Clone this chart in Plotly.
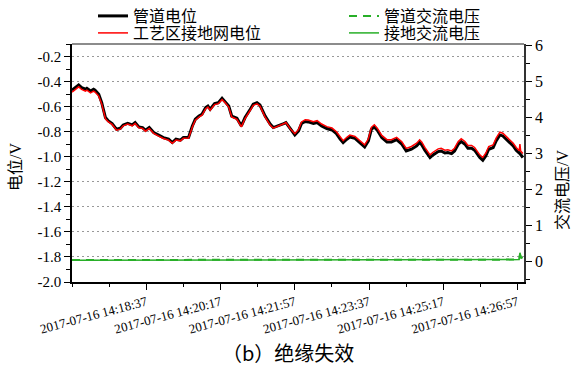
import pandas as pd
import plotly.graph_objects as go

START = pd.Timestamp("2017-07-16 14:16:57")

# seconds after START, pipe potential (V)
t_pipe = [0, 5, 9, 13, 18, 20, 25, 29, 31, 36, 40, 45, 49, 54, 60, 65, 69, 75, 81, 85,
          90, 95, 99, 104, 110, 116, 123, 130, 135, 140, 146, 150, 157, 162, 166, 171, 175, 180,
          183, 186, 192, 197, 202, 206, 211, 215, 222, 228, 233, 240, 244, 249, 253, 260, 267,
          271, 278, 285, 288, 294, 300, 305, 309, 314, 318, 325, 330, 336, 343, 350, 356, 361,
          365, 370, 374, 381, 388, 394, 399, 403, 407, 411, 417, 424, 430, 437, 444, 450, 457,
          464, 468, 471, 475, 482, 486, 493, 497, 502, 506, 511, 515, 520, 524, 529, 533, 538,
          542, 549, 553, 557, 561, 567, 571, 576, 580, 585, 589, 594, 598, 603, 607]
v_pipe = [-0.469, -0.443, -0.427, -0.448, -0.461, -0.453, -0.475, -0.461, -0.469, -0.501,
          -0.568, -0.687, -0.714, -0.735, -0.781, -0.773, -0.746, -0.733, -0.746, -0.727,
          -0.762, -0.767, -0.789, -0.767, -0.807, -0.826, -0.847, -0.860, -0.887, -0.860,
          -0.868, -0.847, -0.845, -0.754, -0.701, -0.675, -0.661, -0.608, -0.595, -0.621,
          -0.576, -0.568, -0.533, -0.560, -0.595, -0.675, -0.693, -0.754, -0.687, -0.621,
          -0.581, -0.568, -0.587, -0.675, -0.741, -0.767, -0.754, -0.735, -0.727, -0.781,
          -0.826, -0.794, -0.735, -0.719, -0.722, -0.735, -0.727, -0.754, -0.775, -0.786,
          -0.815, -0.860, -0.887, -0.860, -0.842, -0.853, -0.887, -0.922, -0.874, -0.781,
          -0.762, -0.789, -0.847, -0.882, -0.882, -0.863, -0.900, -0.954, -0.940, -0.914,
          -0.887, -0.906, -0.948, -1.007, -0.986, -0.959, -0.954, -0.970, -0.967, -0.975,
          -0.954, -0.900, -0.879, -0.900, -0.932, -0.932, -0.948, -1.007, -1.028, -0.994,
          -0.940, -0.927, -0.874, -0.826, -0.834, -0.860, -0.887, -0.914, -0.948, -0.975,
          -1.007]

# seconds after START, process-area grounding grid potential (V)
t_grid = [0, 5, 9, 13, 18, 20, 25, 29, 31, 36, 40, 45, 49, 54, 60, 65, 69, 75, 81, 85,
          90, 95, 99, 104, 110, 116, 123, 130, 135, 140, 146, 150, 157, 162, 166, 171, 175, 180,
          183, 186, 192, 197, 202, 206, 211, 215, 222, 228, 233, 240, 244, 249, 253, 260, 267,
          271, 278, 285, 288, 294, 300, 305, 309, 314, 318, 325, 330, 336, 343, 350, 356, 361,
          365, 370, 374, 381, 388, 394, 399, 403, 407, 411, 417, 424, 430, 437, 444, 450, 457,
          464, 468, 471, 475, 482, 486, 493, 497, 502, 506, 511, 515, 520, 524, 529, 533, 538,
          542, 549, 553, 557, 561, 567, 571, 576, 580, 585, 589, 594, 598, 602, 603, 604, 607]
v_grid = [-0.484, -0.458, -0.442, -0.463, -0.476, -0.468, -0.490, -0.476, -0.484, -0.516,
          -0.578, -0.697, -0.722, -0.742, -0.788, -0.780, -0.753, -0.740, -0.753, -0.734,
          -0.769, -0.774, -0.796, -0.774, -0.814, -0.833, -0.854, -0.867, -0.892, -0.867,
          -0.873, -0.852, -0.850, -0.762, -0.709, -0.683, -0.669, -0.616, -0.603, -0.629,
          -0.584, -0.576, -0.543, -0.568, -0.603, -0.683, -0.701, -0.762, -0.695, -0.629,
          -0.589, -0.578, -0.595, -0.683, -0.749, -0.772, -0.757, -0.737, -0.727, -0.778,
          -0.816, -0.782, -0.722, -0.704, -0.707, -0.720, -0.712, -0.739, -0.760, -0.771,
          -0.800, -0.845, -0.872, -0.845, -0.827, -0.838, -0.872, -0.905, -0.857, -0.765,
          -0.745, -0.772, -0.830, -0.864, -0.864, -0.845, -0.880, -0.933, -0.918, -0.892,
          -0.865, -0.884, -0.926, -0.985, -0.964, -0.937, -0.932, -0.948, -0.945, -0.953,
          -0.932, -0.878, -0.857, -0.878, -0.910, -0.910, -0.926, -0.985, -1.006, -0.972,
          -0.918, -0.905, -0.852, -0.804, -0.812, -0.838, -0.865, -0.892, -0.926, -0.952,
          -0.898, -0.955, -0.975]

# AC voltages (V, right axis)
t_ac = [0, 60, 120, 180, 240, 300, 360, 420, 480, 540, 590, 600, 602, 603, 605, 607]
v_ac_pipe = [0.05, 0.05, 0.05, 0.05, 0.05, 0.05, 0.05, 0.05, 0.05, 0.05, 0.05, 0.05, 0.06, 0.20, 0.08, 0.10]
v_ac_ground = [0.04, 0.04, 0.05, 0.04, 0.04, 0.05, 0.04, 0.04, 0.05, 0.04, 0.04, 0.05, 0.06, 0.25, 0.10, 0.12]

x_tick_labels = ["2017-07-16 14:18:37", "2017-07-16 14:20:17", "2017-07-16 14:21:57",
                 "2017-07-16 14:23:37", "2017-07-16 14:25:17", "2017-07-16 14:26:57"]
y_tick_vals = [-2.0, -1.8, -1.6, -1.4, -1.2, -1.0, -0.8, -0.6, -0.4, -0.2]
y_tick_labels = ["-2.0", "-1.8", "-1.6", "-1.4", "-1.2", "-1.0", "-0.8", "-0.6", "-0.4", "-0.2"]
y2_tick_vals = [0, 1, 2, 3, 4, 5, 6]

names = ["管道电位", "工艺区接地网电位", "管道交流电压", "接地交流电压"]


def to_time(secs):
    return [START + pd.Timedelta(seconds=s) for s in secs]


NUM_FONT = "Liberation Serif"
FONT = "Liberation Serif, Noto Sans CJK SC"
CJK_FONT = "Noto Sans CJK SC"
GREEN = "rgb(40,175,40)"

fig = go.Figure()
fig.add_trace(go.Scatter(x=to_time(t_pipe), y=v_pipe, mode="lines", name=names[0],
                         line=dict(color="black", width=3), legend="legend"))
fig.add_trace(go.Scatter(x=to_time(t_grid), y=v_grid, mode="lines", name=names[1],
                         line=dict(color="#ff0000", width=1.5), legend="legend2"))
fig.add_trace(go.Scatter(x=to_time(t_ac), y=v_ac_ground, mode="lines", name=names[3],
                         line=dict(color=GREEN, width=1.5), yaxis="y2", legend="legend4"))
fig.add_trace(go.Scatter(x=to_time(t_ac), y=v_ac_pipe, mode="lines", name=names[2],
                         line=dict(color=GREEN, width=2, dash="8px,6px"), yaxis="y2", legend="legend3"))

W, H = 574, 371
L, R, T, B = 72, 50, 44, 89
pw, ph = W - L - R, H - T - B


def px(xp):
    return (xp - L) / pw


def py(yp):
    return (H - B - yp) / ph


leg_common = dict(font=dict(family=FONT, size=16, color="black"), bgcolor="rgba(0,0,0,0)",
                  xanchor="left", yanchor="middle", borderwidth=0)

fig.update_layout(
    width=W, height=H,
    showlegend=True,
    margin=dict(l=L, r=R, t=T, b=B, autoexpand=False),
    plot_bgcolor="white", paper_bgcolor="white",
    font=dict(family=FONT, color="black"),
    legend=dict(x=px(93), y=py(16), **leg_common),
    legend2=dict(x=px(93), y=py(33), **leg_common),
    legend3=dict(x=px(344), y=py(16), **leg_common),
    legend4=dict(x=px(344), y=py(33), **leg_common),
    xaxis=dict(
        type="date",
        range=[START, START + pd.Timedelta(seconds=608.5)],
        tickmode="array", tickvals=x_tick_labels, ticktext=x_tick_labels,
        tickangle=-15, tickfont=dict(family=NUM_FONT, size=13, color="black"),
        ticks="outside", ticklen=6, tickwidth=1, tickcolor="black",
        minor=dict(ticks="outside", ticklen=3, tickcolor="black", dtick=50000, tick0=START, showgrid=False),
        showline=True, linecolor="black", linewidth=1.5,
        showgrid=False, zeroline=False,
    ),
    yaxis=dict(
        range=[-2.0, -0.1],
        tickmode="array", tickvals=y_tick_vals, ticktext=y_tick_labels,
        tickfont=dict(family=NUM_FONT, size=15, color="black"),
        ticks="outside", ticklen=6, tickwidth=1, tickcolor="black",
        minor=dict(ticks="outside", ticklen=4, tickcolor="black", dtick=0.1, tick0=-2.0, showgrid=False),
        showline=True, linecolor="black", linewidth=1.5,
        showgrid=True, gridcolor="#999999", griddash="2px,3px", gridwidth=1,
        zeroline=False,
    ),
    yaxis2=dict(
        overlaying="y", side="right",
        range=[-0.56, 6.03],
        tickmode="array", tickvals=y2_tick_vals,
        tickfont=dict(family=NUM_FONT, size=16, color="black"),
        ticks="outside", ticklen=6, tickwidth=1, tickcolor="black",
        minor=dict(ticks="outside", ticklen=4, tickcolor="black", dtick=0.5, tick0=0, showgrid=False),
        showline=True, linecolor="#333333", linewidth=1.5,
        showgrid=False, zeroline=False,
    ),
    shapes=[dict(type="line", xref="paper", yref="paper", x0=0, x1=1, y0=1, y1=1,
                 line=dict(color="#666666", width=1.5))],
    annotations=[
        dict(text="电位/V", xref="paper", yref="paper", x=px(15), y=py(167), textangle=-90,
             showarrow=False, font=dict(family=FONT, size=16, color="black"),
             xanchor="center", yanchor="middle"),
        dict(text="交流电压/V", xref="paper", yref="paper", x=px(562), y=py(190), textangle=-90,
             showarrow=False, font=dict(family=FONT, size=16, color="black"),
             xanchor="center", yanchor="middle"),
        dict(text="（b）绝缘失效", xref="paper", yref="paper", x=px(288), y=py(352),
             showarrow=False, font=dict(family=CJK_FONT, size=20, color="black"),
             xanchor="center", yanchor="middle"),
    ],
)

fig.write_html("out.html", config={"displayModeBar": False},
               post_script="document.body.style.margin='0';")
